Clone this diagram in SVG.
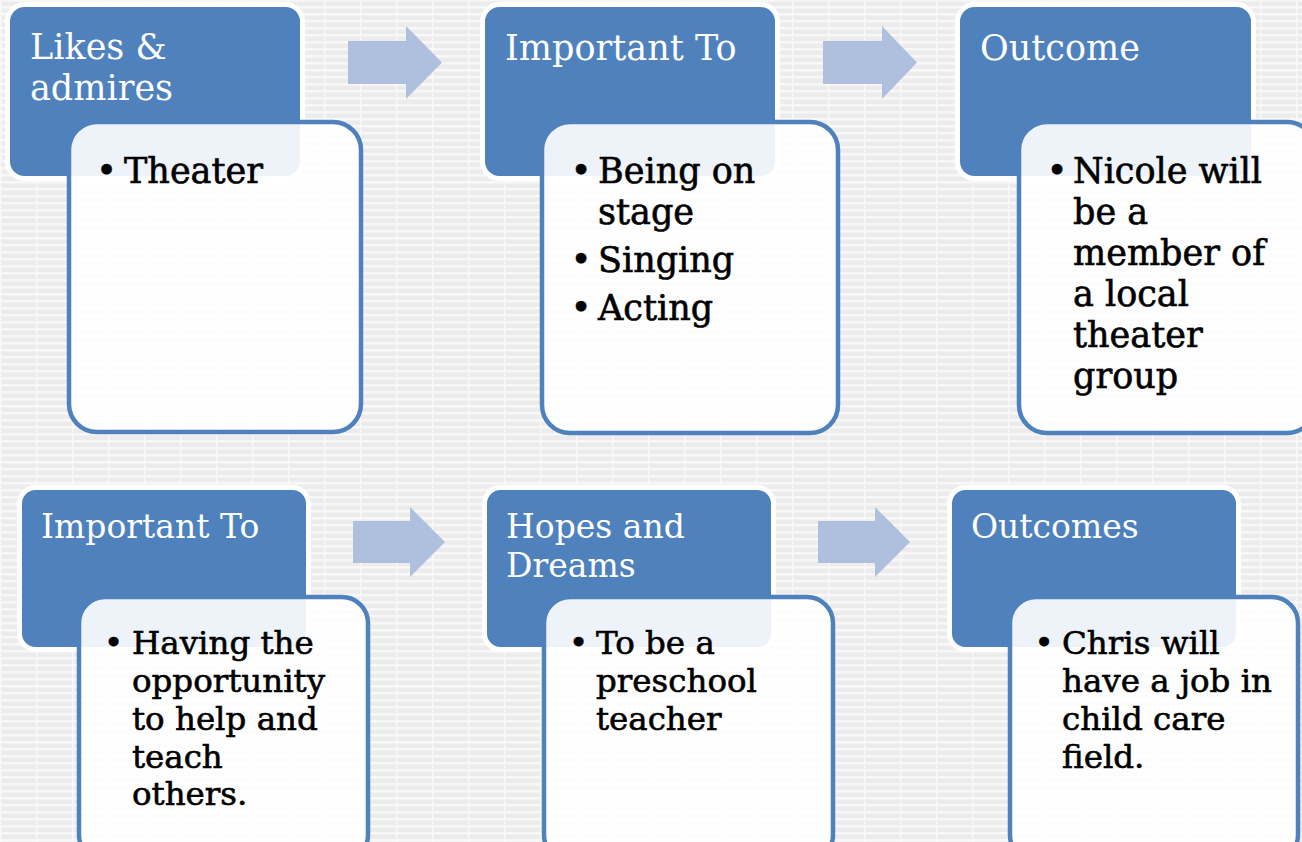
<svg xmlns="http://www.w3.org/2000/svg" width="1302" height="842" viewBox="0 0 1302 842">
<defs>
<pattern id="bg" width="36" height="7" patternUnits="userSpaceOnUse">
<rect width="36" height="7" fill="#F8F8F8"/>
<rect x="1.5" y="1.5" width="34.5" height="4.5" fill="#ECECEC"/>
</pattern>
<style>
.hdr{fill:#4F81BD;stroke:#FFFFFF;stroke-width:5}
.box{fill:#FFFFFF;fill-opacity:0.9;stroke:#4F81BD;stroke-width:4.5}
.arrow{fill:#AEC0DD}
.t1{font-family:"DejaVu Serif","Liberation Serif",serif;font-size:35px;fill:#FFFFFF}
.b1{font-family:"DejaVu Serif","Liberation Serif",serif;font-size:35px;fill:#000000;stroke:#000000;stroke-width:0.6}
.t2{font-family:"DejaVu Serif","Liberation Serif",serif;font-size:33px;fill:#FFFFFF}
.b2{font-family:"DejaVu Serif","Liberation Serif",serif;font-size:32.5px;fill:#000000;stroke:#000000;stroke-width:0.6}
.bul{text-anchor:middle}
</style>
</defs>
<rect width="1302" height="842" fill="url(#bg)"/>

<g id="connectors">
<polygon class="arrow" points="348,41 406,41 406,26 442,62.5 406,99 406,84 348,84"/>
<polygon class="arrow" points="823,41 882,41 882,26 917,62.5 882,99 882,84 823,84"/>
<polygon class="arrow" points="353,521 410,521 410,507 445,542 410,577 410,563 353,563"/>
<polygon class="arrow" points="818,521 875,521 875,507 910,542 875,577 875,563 818,563"/>
</g>

<g id="node-likes">
<rect class="hdr" x="7.5" y="4.5" width="295" height="174" rx="17"/>
<text class="t1" x="30" y="59">Likes &amp;</text>
<text class="t1" x="30" y="100">admires</text>
<rect class="box" x="69" y="122" width="292" height="310" rx="28"/>
<text class="b1 bul" x="106.5" y="183">•</text>
<text class="b1" x="124" y="183">Theater</text>
</g>

<g id="node-important-1">
<rect class="hdr" x="482.5" y="4.5" width="295" height="174" rx="17"/>
<text class="t1" x="505" y="60">Important To</text>
<rect class="box" x="542" y="122" width="296" height="311" rx="28"/>
<text class="b1 bul" x="581" y="183">•</text>
<text class="b1" x="598" y="183">Being on</text>
<text class="b1" x="598" y="224">stage</text>
<text class="b1 bul" x="581" y="272">•</text>
<text class="b1" x="598" y="272">Singing</text>
<text class="b1 bul" x="581" y="320">•</text>
<text class="b1" x="598" y="320">Acting</text>
</g>

<g id="node-outcome">
<rect class="hdr" x="957.5" y="4.5" width="296" height="174" rx="17"/>
<text class="t1" x="980" y="60">Outcome</text>
<rect class="box" x="1019" y="122" width="296" height="311" rx="28"/>
<text class="b1 bul" x="1057" y="183">•</text>
<text class="b1" x="1073" y="183">Nicole will</text>
<text class="b1" x="1073" y="224">be a</text>
<text class="b1" x="1073" y="265">member of</text>
<text class="b1" x="1073" y="306">a local</text>
<text class="b1" x="1073" y="347">theater</text>
<text class="b1" x="1073" y="388">group</text>
</g>

<g id="node-important-2">
<rect class="hdr" x="19.5" y="487.5" width="289" height="162" rx="16"/>
<text class="t2" x="41" y="538">Important To</text>
<rect class="box" x="79" y="597" width="289" height="264" rx="26"/>
<text class="b2 bul" x="113.5" y="654">•</text>
<text class="b2" x="132" y="654">Having the</text>
<text class="b2" x="132" y="692">opportunity</text>
<text class="b2" x="132" y="730">to help and</text>
<text class="b2" x="132" y="768">teach</text>
<text class="b2" x="132" y="805">others.</text>
</g>

<g id="node-hopes">
<rect class="hdr" x="484.5" y="487.5" width="289" height="162" rx="16"/>
<text class="t2" x="506" y="538">Hopes and</text>
<text class="t2" x="506" y="577">Dreams</text>
<rect class="box" x="544" y="597" width="289" height="264" rx="26"/>
<text class="b2 bul" x="578.5" y="654">•</text>
<text class="b2" x="596" y="654">To be a</text>
<text class="b2" x="596" y="692">preschool</text>
<text class="b2" x="596" y="730">teacher</text>
</g>

<g id="node-outcomes">
<rect class="hdr" x="949.5" y="487.5" width="289" height="162" rx="16"/>
<text class="t2" x="971" y="538">Outcomes</text>
<rect class="box" x="1010" y="597" width="288" height="264" rx="26"/>
<text class="b2 bul" x="1044" y="654">•</text>
<text class="b2" x="1062" y="654">Chris will</text>
<text class="b2" x="1062" y="692">have a job in</text>
<text class="b2" x="1062" y="730">child care</text>
<text class="b2" x="1062" y="768">field.</text>
</g>
</svg>
